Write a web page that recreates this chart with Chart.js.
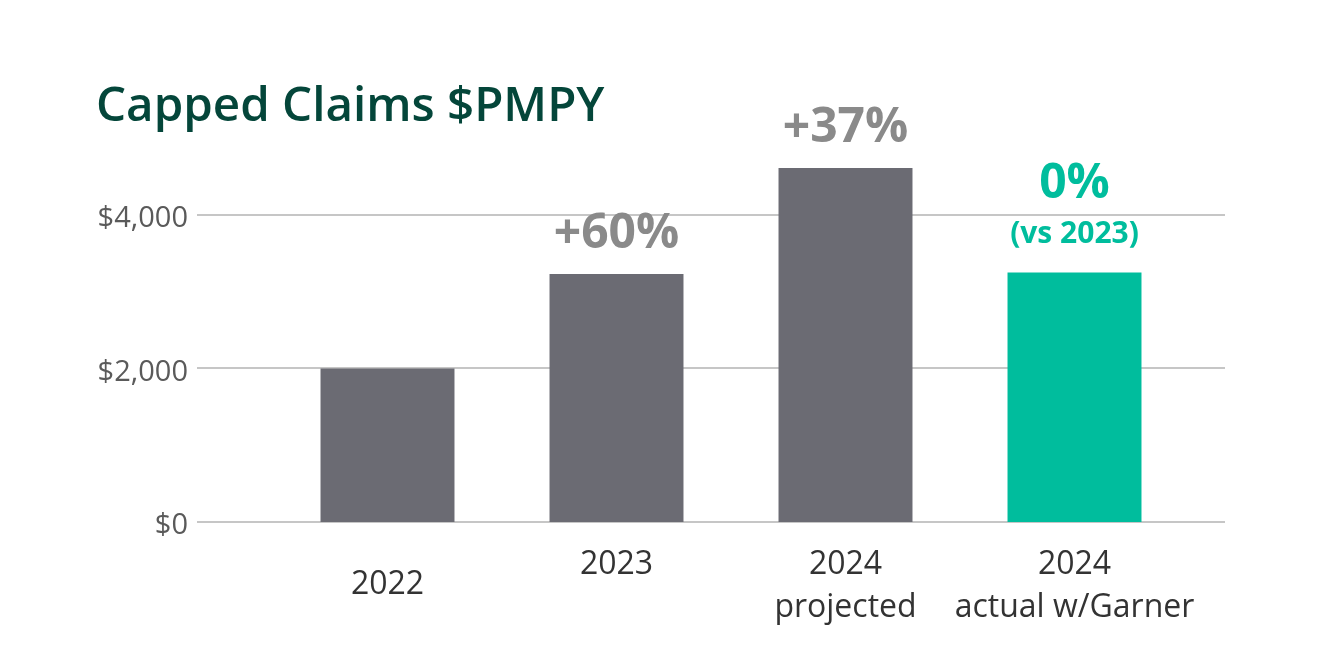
<!DOCTYPE html>
<html>
<head>
<meta charset="utf-8">
<script src="https://cdn.jsdelivr.net/npm/chart.js@4"></script>
<style>
  html, body { margin: 0; padding: 0; background: #fff; }
  #wrap { width: 1320px; height: 668px; }
</style>
</head>
<body>
<div id="wrap"><canvas id="claims-chart"></canvas></div>
<script>
const categories = [["2022"], ["2023"], ["2024", "projected"], ["2024", "actual w/Garner"]];
const claims = [2000, 3230, 4610, 3250];
const changes = ["", "+60%", "+37%", "0%"];
const changeNotes = ["", "", "", "(vs 2023)"];
const yTicks = [0, 2000, 4000];

const GREY = "#6b6b73";
const TEAL = "#00bd9d";
const FONT = "'Open Sans', sans-serif";

const money = (v) => "$" + v.toLocaleString("en-US");

// gridlines, labels and title are drawn here so they can sit outside the bar area
const decorations = {
  id: "decorations",
  beforeDatasetsDraw(chart) {
    const ctx = chart.ctx;
    const y = chart.scales.y;
    ctx.save();
    ctx.strokeStyle = "#c6c6c6";
    ctx.lineWidth = 2;
    yTicks.forEach((t) => {
      const py = Math.round(y.getPixelForValue(t));
      ctx.beginPath();
      ctx.moveTo(197, py);
      ctx.lineTo(1225, py);
      ctx.stroke();
    });
    ctx.restore();
  },
  afterDatasetsDraw(chart) {
    const ctx = chart.ctx;
    const x = chart.scales.x;
    const y = chart.scales.y;
    ctx.save();

    // title
    ctx.fillStyle = "#04463a";
    ctx.font = `600 47.5px ${FONT}`;
    ctx.textAlign = "left";
    ctx.textBaseline = "middle";
    ctx.fillText("Capped Claims $PMPY", 96, 107);

    // y labels
    ctx.fillStyle = "#5a5a5a";
    ctx.font = `29px ${FONT}`;
    ctx.textAlign = "right";
    yTicks.forEach((t) => ctx.fillText(money(t), 188, y.getPixelForValue(t) + 4));

    // x labels
    ctx.fillStyle = "#333333";
    ctx.font = `32px ${FONT}`;
    ctx.textAlign = "center";
    categories.forEach((lines, i) => {
      const px = x.getPixelForValue(i);
      if (lines.length === 1 && i === 0) {
        ctx.fillText(lines[0], px, 585);
      } else {
        lines.forEach((l, j) => ctx.fillText(l, px, 565 + j * 43));
      }
    });

    // change annotations above bars
    changes.forEach((c, i) => {
      if (!c) return;
      const px = x.getPixelForValue(i);
      const top = y.getPixelForValue(claims[i]);
      const teal = i === 3;
      ctx.fillStyle = teal ? TEAL : "#8a8a8a";
      ctx.font = `bold 48px ${FONT}`;
      const off = changeNotes[i] ? 88 : 40;
      ctx.fillText(c, px, top - off);
      if (changeNotes[i]) {
        ctx.font = `bold 30px ${FONT}`;
        ctx.fillText(changeNotes[i], px, top - 38);
      }
    });
    ctx.restore();
  },
};

new Chart(document.getElementById("claims-chart"), {
  type: "bar",
  data: {
    labels: categories,
    datasets: [
      {
        label: "Capped Claims $PMPY",
        data: claims,
        backgroundColor: [GREY, GREY, GREY, TEAL],
        categoryPercentage: 1,
        barPercentage: 0.585,
      },
    ],
  },
  options: {
    responsive: true,
    maintainAspectRatio: false,
    animation: false,
    devicePixelRatio: 1,
    layout: { padding: { left: 273, right: 131, top: 138, bottom: 146 } },
    plugins: { legend: { display: false }, tooltip: { enabled: false } },
    scales: {
      x: { display: false },
      y: { display: false, min: 0, max: 5000 },
    },
  },
  plugins: [decorations],
});
</script>
</body>
</html>
